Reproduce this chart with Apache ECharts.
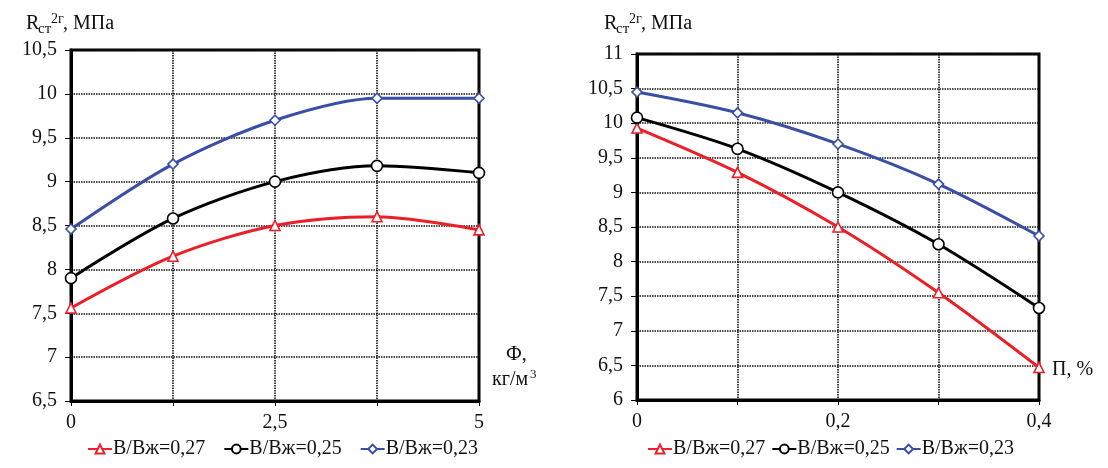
<!DOCTYPE html>
<html>
<head>
<meta charset="utf-8">
<script src="https://cdn.jsdelivr.net/npm/echarts@6/dist/echarts.min.js"></script>
<style>
  html, body { margin: 0; padding: 0; background: #fff; }
  #chart { width: 1108px; height: 468px; }
</style>
</head>
<body>
<div id="chart"></div>
<script>
// Left panel: strength vs fibre dosage Ф, кг/м3
const fiberDose = [0, 1.25, 2.5, 3.75, 5];
const leftW027 = [7.56, 8.15, 8.5, 8.6, 8.45];
const leftW025 = [7.9, 8.58, 9.0, 9.18, 9.1];
const leftW023 = [8.46, 9.2, 9.7, 9.95, 9.95];

// Right panel: strength vs additive П, %
const additive = [0, 0.1, 0.2, 0.3, 0.4];
const rightW027 = [9.93, 9.29, 8.5, 7.55, 6.47];
const rightW025 = [10.08, 9.63, 9.0, 8.25, 7.33];
const rightW023 = [10.45, 10.15, 9.7, 9.12, 8.37];

const seriesNames = ['В/Вж=0,27', 'В/Вж=0,25', 'В/Вж=0,23'];
const leftLabelTicks = [0, 2.5, 5];
const rightLabelTicks = [0, 0.2, 0.4];

const FONT = "'Liberation Serif', 'Times New Roman', 'DejaVu Serif', serif";
const RED = '#ec1f28';
const BLACK = '#000000';
const BLUE = '#3a4ea6';

function comma(v) {
  return String(+v.toFixed(2)).replace('.', ',');
}
function onlyAt(list) {
  return function (v) {
    return list.some(t => Math.abs(t - v) < 1e-6) ? comma(v) : '';
  };
}
function pairs(xs, ys) {
  return xs.map((x, i) => [x, ys[i]]);
}

const styles = [
  { color: RED, symbol: 'triangle', size: 10 },
  { color: BLACK, symbol: 'circle', size: 11 },
  { color: BLUE, symbol: 'diamond', size: 10 }
];

function makeSeries(idx, xs, ys, k) {
  const s = styles[k];
  return {
    type: 'line',
    name: seriesNames[k],
    xAxisIndex: idx,
    yAxisIndex: idx,
    data: pairs(xs, ys),
    smooth: 0.3,
    symbol: s.symbol,
    symbolSize: s.size,
    showAllSymbol: true,
    lineStyle: { color: s.color, width: 3 },
    itemStyle: { color: '#fff', borderColor: s.color, borderWidth: 1.6 },
    emphasis: { disabled: true },
    z: 3 + k
  };
}

const gridLine = { show: true, lineStyle: { color: '#111', width: 1.6, type: [1.5, 1] } };

function xAxisCfg(gi, max, interval, labels) {
  return {
    type: 'value', gridIndex: gi, min: 0, max: max, interval: interval,
    axisLine: { show: true, onZero: false, lineStyle: { color: '#000', width: 3 } },
    axisTick: { show: true, length: 5, lineStyle: { color: '#000', width: 1 } },
    axisLabel: { formatter: onlyAt(labels), fontFamily: FONT, fontSize: 20, color: '#111', margin: 12 },
    splitLine: gridLine
  };
}
function yAxisCfg(gi, min, max) {
  return {
    type: 'value', gridIndex: gi, min: min, max: max, interval: 0.5,
    axisLine: { show: true, onZero: false, lineStyle: { color: '#000', width: 3 } },
    axisTick: { show: true, length: 6, lineStyle: { color: '#000', width: 1 } },
    axisLabel: { formatter: v => comma(v), fontFamily: FONT, fontSize: 20, color: '#111', margin: 14 },
    splitLine: gridLine
  };
}

function txt(left, top, text, size) {
  return { type: 'text', left: left, top: top,
    style: { text: text, fontFamily: FONT, fontSize: size, fill: '#111' } };
}

function titleTexts(x0, base) {
  return [
    txt(x0, base - 17, 'R', 20),
    txt(x0 + 12, base - 9, 'ст', 15),
    txt(x0 + 25, base - 19, '2г', 14),
    txt(x0 + 37, base - 17, ', МПа', 20)
  ];
}

const chart = echarts.init(document.getElementById('chart'), null, { renderer: 'canvas' });

const legendBase = {
  bottom: 4, itemWidth: 24, itemHeight: 11,
  textStyle: { fontFamily: FONT, fontSize: 20, color: '#111', padding: [0, 0, 0, -4] },
  data: seriesNames, selectedMode: false
};

chart.setOption({
  backgroundColor: '#fff',
  animation: false,
  grid: [
    { left: 71, top: 50, width: 408, height: 351, show: true, borderColor: '#000', borderWidth: 3 },
    { left: 637, top: 54, width: 402, height: 346, show: true, borderColor: '#000', borderWidth: 3 }
  ],
  xAxis: [xAxisCfg(0, 5, 1.25, leftLabelTicks), xAxisCfg(1, 0.4, 0.1, rightLabelTicks)],
  yAxis: [yAxisCfg(0, 6.5, 10.5), yAxisCfg(1, 6, 11)],
  legend: [
    Object.assign({}, legendBase, { left: 82, itemGap: 18 }),
    Object.assign({}, legendBase, { left: 642, itemGap: 6 })
  ],
  graphic: [].concat(
    titleTexts(26, 31),
    titleTexts(604, 31),
    [
      txt(506, 345, 'Ф,', 20),
      txt(492, 370, 'кг/м', 20),
      txt(530, 368, '3', 13),
      txt(1052, 360, 'П, %', 20)
    ]
  ),
  series: [
    makeSeries(0, fiberDose, leftW027, 0),
    makeSeries(0, fiberDose, leftW025, 1),
    makeSeries(0, fiberDose, leftW023, 2),
    makeSeries(1, additive, rightW027, 0),
    makeSeries(1, additive, rightW025, 1),
    makeSeries(1, additive, rightW023, 2)
  ]
});
</script>
</body>
</html>
